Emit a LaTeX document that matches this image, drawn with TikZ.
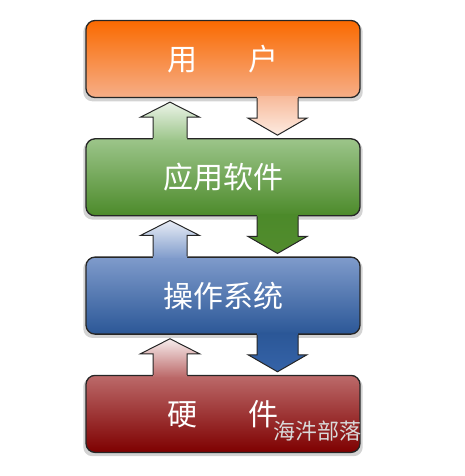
\documentclass[tikz,border=0pt]{standalone}
\usepackage{fontspec}
\newfontfamily\cjk{Noto Sans CJK SC}
\usepackage{xcolor}
\usetikzlibrary{positioning,shadows}

\definecolor{usertop}{HTML}{FA6A00}
\definecolor{usermid}{HTML}{F87418}
\definecolor{userbot}{HTML}{F6AE88}
\definecolor{apptop}{HTML}{9CC58A}
\definecolor{appmid}{HTML}{5B9B32}
\definecolor{appbot}{HTML}{4C8A2A}
\definecolor{ostop}{HTML}{7F9BCB}
\definecolor{osmid}{HTML}{3563A8}
\definecolor{osbot}{HTML}{2B5797}
\definecolor{hwtop}{HTML}{BC6A6A}
\definecolor{hwmid}{HTML}{8E0B0B}
\definecolor{hwbot}{HTML}{7E0000}

\begin{document}
\begin{tikzpicture}[x=1pt,y=1pt,
	layer/.style={draw=black!85, line width=1.3pt, rounded corners=9pt,
		minimum width=274pt, minimum height=77pt, text=white,
		font=\cjk\fontsize{30}{32}\selectfont,
		drop shadow={opacity=0.35, shadow xshift=0pt, shadow yshift=-3pt, shadow scale=1.02}},
	edge/.style={draw=black!85, line width=1pt, line join=miter}]
	\useasboundingbox (0,0) rectangle (465,-476);
	% the four layers
	\node[layer, top color=usertop, middle color=usermid, bottom color=userbot] (user) at (223,-59) {用\hspace{52pt}户};
	\node[layer, top color=apptop, middle color=appmid, bottom color=appbot, below=40pt of user] (app) {应用软件};
	\node[layer, top color=ostop, middle color=osmid, bottom color=osbot, below=40pt of app] (os) {操作系统};
	\node[layer, top color=hwtop, middle color=hwmid, bottom color=hwbot, below=40pt of os] (hw) {硬\hspace{52pt}件};
	% user -> app
	\shade[top color=userbot!85!white, bottom color=userbot!25!white] (user.south) ++(75,2) -- ++(0,-22) -- ++(9,0) -- ++(-29.5,-17) -- ++(-29.5,17) -- ++(9,0) -- ++(0,22) -- cycle;
	\draw[edge] (user.south) ++(75,0) -- ++(0,-20) -- ++(9,0) -- ++(-29.5,-17) -- ++(-29.5,17) -- ++(9,0) -- ++(0,20);
	% app -> user
	\shade[top color=apptop!20!white, bottom color=apptop] (app.north) ++(-36,-2) -- ++(0,23) -- ++(12.5,0) -- ++(-29.5,15) -- ++(-29.5,-15) -- ++(12.5,0) -- ++(0,-23) -- cycle;
	\draw[edge] (app.north) ++(-36,0) -- ++(0,21) -- ++(12.5,0) -- ++(-29.5,15) -- ++(-29.5,-15) -- ++(12.5,0) -- ++(0,-21);
	% app -> os
	\shade[top color=appbot, bottom color=appmid!90!black] (app.south) ++(75,2) -- ++(0,-22) -- ++(9,0) -- ++(-29.5,-17) -- ++(-29.5,17) -- ++(9,0) -- ++(0,22) -- cycle;
	\draw[edge] (app.south) ++(75,0) -- ++(0,-20) -- ++(9,0) -- ++(-29.5,-17) -- ++(-29.5,17) -- ++(9,0) -- ++(0,20);
	% os -> app
	\shade[top color=ostop!18!white, bottom color=ostop] (os.north) ++(-36,-2) -- ++(0,23) -- ++(12.5,0) -- ++(-29.5,15) -- ++(-29.5,-15) -- ++(12.5,0) -- ++(0,-23) -- cycle;
	\draw[edge] (os.north) ++(-36,0) -- ++(0,21) -- ++(12.5,0) -- ++(-29.5,15) -- ++(-29.5,-15) -- ++(12.5,0) -- ++(0,-21);
	% os -> hw
	\shade[top color=osbot, bottom color=osmid] (os.south) ++(75,2) -- ++(0,-22) -- ++(9,0) -- ++(-29.5,-17) -- ++(-29.5,17) -- ++(9,0) -- ++(0,22) -- cycle;
	\draw[edge] (os.south) ++(75,0) -- ++(0,-20) -- ++(9,0) -- ++(-29.5,-17) -- ++(-29.5,17) -- ++(9,0) -- ++(0,20);
	% hw -> os
	\shade[top color=hwtop!12!white, bottom color=hwtop] (hw.north) ++(-36,-2) -- ++(0,23) -- ++(12.5,0) -- ++(-29.5,15) -- ++(-29.5,-15) -- ++(12.5,0) -- ++(0,-23) -- cycle;
	\draw[edge] (hw.north) ++(-36,0) -- ++(0,21) -- ++(12.5,0) -- ++(-29.5,15) -- ++(-29.5,-15) -- ++(12.5,0) -- ++(0,-21);
	% watermark
	\node[font=\cjk\fontsize{22}{22}\selectfont, text=black!15] (mark) at (317,-431) {海汼部落};
\end{tikzpicture}
\end{document}
